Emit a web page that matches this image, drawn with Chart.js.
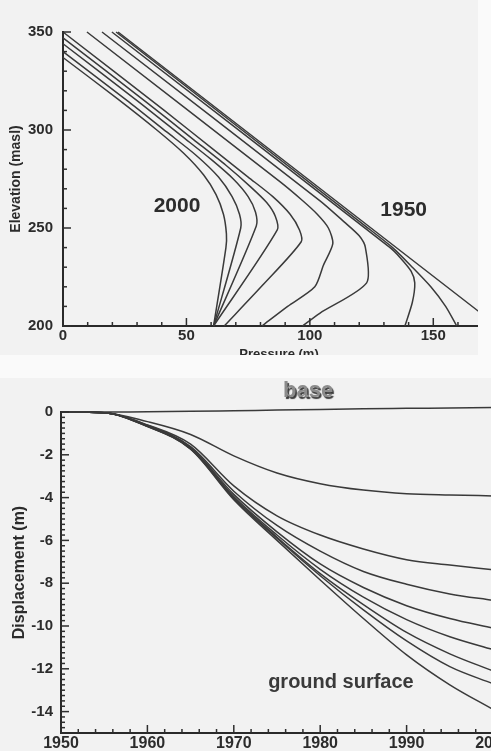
<!DOCTYPE html>
<html>
<head>
<meta charset="utf-8">
<script src="https://cdn.jsdelivr.net/npm/chart.js@4.4.1/dist/chart.umd.min.js"></script>
<style>
  html, body { margin: 0; padding: 0; }
  body { width: 491px; height: 751px; overflow: hidden; background: #fafafa; position: relative; }
  #topBox { position: absolute; left: 0; top: 0; width: 478px; height: 355px; overflow: hidden; background: #f2f2f2; }
  #bottomBox { position: absolute; left: 0; top: 378px; width: 491px; height: 373px; overflow: hidden; background: #f2f2f2; }
  canvas { display: block; }
</style>
</head>
<body>
<div id="topBox"><canvas id="pressureChart" width="500" height="362"></canvas></div>
<div id="bottomBox"><canvas id="displacementChart" width="520" height="383"></canvas></div>
<script>
// ---- top panel: pressure profiles, [pressure (m), elevation (masl)]
const elevTicks = [200, 250, 300, 350];
const pressureTicks = [0, 50, 100, 150];
const curveYears = ['1950', '1955', '1960', '1965', '1970', '1975', '1980', '1985', '1990', '2000'];

const profile1950 = [[22.3, 350], [176, 200]];
const profile1955 = [[21.5, 350], [122.5, 251], [133.5, 240], [141.5, 230], [149, 220], [155, 210], [159.5, 200]];
const profile1960 = [[19.8, 350], [132.5, 240], [136.5, 235], [141, 228], [142.5, 222], [141.5, 212], [138.5, 200]];
const profile1965 = [[15.8, 350], [104, 264], [114, 253], [120, 246], [122.5, 240], [123, 222], [104, 206.5], [97, 200]];
const profile1970 = [[9.7, 350], [88, 273.5], [97, 264], [103, 257], [107.5, 250], [109.3, 242], [105.5, 231], [102, 220], [91, 210], [80.6, 200]];
const profile1975 = [[0, 350], [41, 310], [61, 290], [75, 276], [85, 266], [92, 257], [95.8, 249], [96.5, 243], [81, 221], [65.3, 200]];
const profile1980 = [[0, 347], [34, 314], [53, 295], [66, 282], [76, 271], [82.5, 263], [86, 256], [86.8, 249], [61, 200]];
const profile1985 = [[0, 344], [30, 315], [48, 297], [60, 285], [69, 275], [75, 266], [78, 258], [78.3, 251], [61, 200]];
const profile1990 = [[0, 340], [26, 315], [42, 299], [54, 287], [63, 276], [68.5, 266], [71.5, 257], [72, 250], [61, 200]];
const profile2000 = [[0, 337], [22, 316], [38, 300], [49, 288], [57, 277], [62, 267], [65, 257], [66.2, 247], [66, 240], [61, 200]];

// ---- bottom panel: displacement (m) by year
const years = [1950, 1955, 1960, 1965, 1970, 1975, 1980, 1985, 1990, 1995, 2000];
const yearTicks = [1950, 1960, 1970, 1980, 1990, 2000];
const dispTicks = [-14, -12, -10, -8, -6, -4, -2, 0];

const dispBase = [0, 0, 0.01, 0.03, 0.06, 0.09, 0.12, 0.15, 0.17, 0.19, 0.21];
const dispA = [0, -0.03, -0.45, -1.05, -2.05, -2.85, -3.35, -3.65, -3.82, -3.88, -3.92];
const dispB = [0, -0.04, -0.6, -1.5, -3.45, -4.85, -5.75, -6.4, -6.9, -7.15, -7.37];
const dispC = [0, -0.04, -0.62, -1.62, -3.7, -5.3, -6.5, -7.45, -8.05, -8.5, -8.8];
const dispD = [0, -0.04, -0.64, -1.66, -3.85, -5.6, -7.1, -8.2, -9.05, -9.65, -10.1];
const dispE = [0, -0.04, -0.65, -1.68, -3.95, -5.75, -7.35, -8.65, -9.7, -10.5, -11.1];
const dispF = [0, -0.04, -0.66, -1.7, -4.0, -5.85, -7.55, -9.0, -10.3, -11.3, -12.1];
const dispG = [0, -0.04, -0.67, -1.72, -4.05, -5.9, -7.65, -9.25, -10.7, -11.9, -12.7];
const dispSurface = [0, -0.04, -0.68, -1.74, -4.1, -6.0, -7.85, -9.65, -11.35, -12.75, -13.9];

const lineColor = '#3a3a3a';
const textColor = '#2c2c2c';
const fontFamily = "'Liberation Sans', Arial, Helvetica, sans-serif";

Chart.defaults.font.family = fontFamily;
Chart.defaults.color = textColor;

// small inward tick marks on the axes
const tickMarks = {
  id: 'tickMarks',
  afterDraw(chart, args, opts) {
    const ctx = chart.ctx;
    ctx.save();
    ctx.strokeStyle = '#2e2e2e';
    ctx.lineWidth = 1.5;
    opts.axes.forEach(function(a) {
      const scale = chart.scales[a.id];
      for (let v = scale.min; v <= scale.max + 1e-9; v += a.minor) {
        const r = v / a.major;
        const isMajor = Math.abs(r - Math.round(r)) < 1e-6;
        const len = isMajor ? a.majorLen : a.minorLen;
        const p = scale.getPixelForValue(v);
        ctx.beginPath();
        if (scale.isHorizontal()) {
          ctx.moveTo(p, scale.top);
          ctx.lineTo(p, scale.top - len);
        } else {
          ctx.moveTo(scale.right, p);
          ctx.lineTo(scale.right + len, p);
        }
        ctx.stroke();
      }
    });
    ctx.restore();
  }
};

// free text: annotations (data coords) and axis titles
const textLabels = {
  id: 'textLabels',
  afterDraw(chart, args, opts) {
    const ctx = chart.ctx;
    const xs = chart.scales.x;
    const ys = chart.scales.y;
    const area = chart.chartArea;
    opts.items.forEach(function(t) {
      ctx.save();
      ctx.font = t.font;
      ctx.fillStyle = t.color || textColor;
      ctx.textAlign = 'center';
      ctx.textBaseline = t.baseline || 'middle';
      if (t.shadow) {
        ctx.shadowColor = t.shadow;
        ctx.shadowOffsetX = 1.5;
        ctx.shadowOffsetY = 1.5;
        ctx.shadowBlur = 1;
      }
      let x, y;
      if (t.title === 'x') {
        x = (area.left + area.right) / 2;
        y = t.py;
      } else if (t.title === 'y') {
        x = t.px;
        y = (area.top + area.bottom) / 2;
      } else {
        x = xs.getPixelForValue(t.x);
        y = ys.getPixelForValue(t.y);
      }
      ctx.translate(x, y);
      if (t.title === 'y') ctx.rotate(-Math.PI / 2);
      ctx.fillText(t.text, 0, 0);
      ctx.restore();
    });
  }
};

function makeLine(label, pts) {
  return {
    label: label,
    data: pts,
    showLine: true,
    borderColor: lineColor,
    backgroundColor: lineColor,
    borderWidth: 1.5,
    pointRadius: 0,
    tension: 0.25,
    clip: false
  };
}

function axisOpts(min, max, tickVals, fontSize, pad) {
  return {
    type: 'linear',
    min: min,
    max: max,
    grid: { display: false, drawTicks: false, tickLength: 0 },
    border: { display: true, color: '#2a2a2a', width: 2 },
    afterBuildTicks: function(s) { s.ticks = tickVals.map(function(v) { return { value: v }; }); },
    ticks: {
      padding: pad,
      maxRotation: 0,
      color: textColor,
      font: { size: fontSize, weight: 'bold' },
      callback: function(v) { return String(v); }
    }
  };
}

const profiles = [profile1950, profile1955, profile1960, profile1965, profile1970,
  profile1975, profile1980, profile1985, profile1990, profile2000];

const px = axisOpts(0, 175, pressureTicks, 15, 1);
px.afterFit = function(s) { s.height = 36; };
const py = axisOpts(200, 350, elevTicks, 15, 10);
py.afterFit = function(s) { s.width = 63; };

new Chart(document.getElementById('pressureChart'), {
  type: 'scatter',
  data: {
    datasets: profiles.map(function(p, i) { return makeLine(curveYears[i], p); })
  },
  options: {
    responsive: false,
    animation: false,
    layout: { padding: { left: 0, right: 5, top: 32, bottom: 0 } },
    plugins: {
      legend: { display: false },
      tooltip: { enabled: false },
      tickMarks: {
        axes: [
          { id: 'x', minor: 10, major: 50, minorLen: 4, majorLen: 8 },
          { id: 'y', minor: 10, major: 50, minorLen: 4, majorLen: 8 }
        ]
      },
      textLabels: {
        items: [
          { text: '2000', x: 46.2, y: 261.2, font: 'bold 21px ' + fontFamily },
          { text: '1950', x: 138, y: 259.2, font: 'bold 21px ' + fontFamily },
          { text: 'Pressure (m)', title: 'x', py: 358, baseline: 'alphabetic', font: 'bold 13px ' + fontFamily },
          { text: 'Elevation (masl)', title: 'y', px: 16, font: 'bold 14px ' + fontFamily }
        ]
      }
    },
    scales: { x: px, y: py }
  },
  plugins: [tickMarks, textLabels]
});

function toPoints(vals) {
  return vals.map(function(v, i) { return { x: years[i], y: v }; });
}

const dispSeries = [dispBase, dispA, dispB, dispC, dispD, dispE, dispF, dispG, dispSurface];
const dispNames = ['base', 'A', 'B', 'C', 'D', 'E', 'F', 'G', 'ground surface'];

const dx = axisOpts(1950, 2000, yearTicks, 16, 1);
dx.afterFit = function(s) { s.height = 28; };
const dy = axisOpts(-15, 0, dispTicks, 15, 8);
dy.afterFit = function(s) { s.width = 61; };

new Chart(document.getElementById('displacementChart'), {
  type: 'scatter',
  data: {
    datasets: dispSeries.map(function(s, i) {
      const ds = makeLine(dispNames[i], toPoints(s));
      ds.tension = 0;
      ds.cubicInterpolationMode = 'monotone';
      return ds;
    })
  },
  options: {
    responsive: false,
    animation: false,
    layout: { padding: { left: 0, right: 27, top: 34, bottom: 0 } },
    plugins: {
      legend: { display: false },
      tooltip: { enabled: false },
      tickMarks: {
        axes: [
          { id: 'x', minor: 2, major: 10, minorLen: 4, majorLen: 8 },
          { id: 'y', minor: 0.25, major: 2, minorLen: 4, majorLen: 8 }
        ]
      },
      textLabels: {
        items: [
          { text: 'base', x: 1978.6, y: 0.97, font: 'bold 22px ' + fontFamily, color: '#8c8c8c', shadow: '#3a3a3a' },
          { text: 'ground surface', x: 1982.4, y: -12.64, font: 'bold 20px ' + fontFamily, color: '#3a3a3a' },
          { text: 'Displacement (m)', title: 'y', px: 20, font: 'bold 16px ' + fontFamily }
        ]
      }
    },
    scales: { x: dx, y: dy }
  },
  plugins: [tickMarks, textLabels]
});
</script>
</body>
</html>
